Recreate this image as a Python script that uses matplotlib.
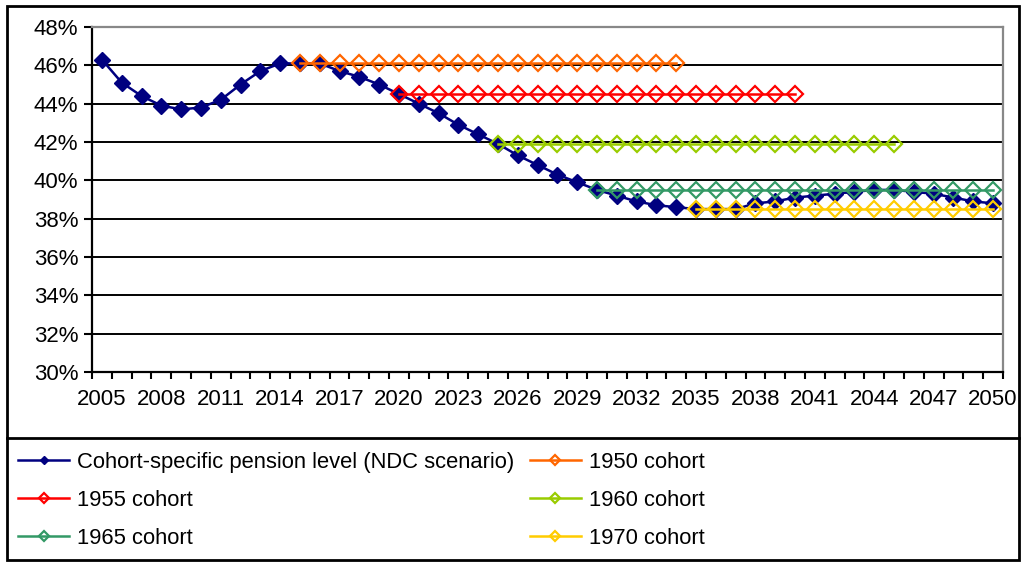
import numpy as np
import matplotlib
matplotlib.use('Agg')
import matplotlib.pyplot as plt
from matplotlib.lines import Line2D
from matplotlib.patches import Rectangle

plt.rcParams['font.family'] = ['Liberation Sans', 'DejaVu Sans']

# data
years = list(range(2005, 2051))
ndc = [46.3, 45.1, 44.4, 43.9, 43.7, 43.8, 44.2, 45.0, 45.7, 46.1,
       46.1, 46.1, 45.7, 45.4, 45.0, 44.5, 44.0, 43.5, 42.9, 42.4,
       41.9, 41.3, 40.8, 40.3, 39.9, 39.5, 39.2, 38.9, 38.7, 38.6,
       38.5, 38.5, 38.5, 38.8, 38.9, 39.1, 39.2, 39.3, 39.4, 39.5,
       39.5, 39.4, 39.3, 39.1, 38.9, 38.8]
cohort_names = ['1950 cohort', '1955 cohort', '1960 cohort', '1965 cohort', '1970 cohort']
cohort_start = [2015, 2020, 2025, 2030, 2035]
cohort_end = [2034, 2040, 2045, 2050, 2050]
cohort_level = [46.1, 44.5, 41.9, 39.5, 38.5]
cohort_colors = ['#FF6600', '#FF0000', '#99CC00', '#339966', '#FFCC00']
yticks = list(range(30, 50, 2))

W, H = 1021, 563
fig = plt.figure(figsize=(W / 100, H / 100), dpi=100)
ax = fig.add_axes([92 / W, (H - 372) / H, (1003 - 92) / W, (372 - 27) / H])

navy = '#000080'
ax.plot(years, ndc, color=navy, lw=1.8, marker='D', ms=8.5, mfc=navy, mec=navy, zorder=3)

handles = {}
for name, s, e, lev, c in zip(cohort_names, cohort_start, cohort_end, cohort_level, cohort_colors):
    yrs = [y for y in years if s <= y <= e]
    h, = ax.plot(yrs, [lev] * len(yrs), color=c, lw=1.8, marker='D', ms=8.5,
                 mfc='none', mec=c, mew=1.6, zorder=4, label=name)
    handles[name] = h

ax.set_xlim(years[0] - 0.5, years[-1] + 0.5)
ax.set_ylim(30, 48)
ax.set_yticks(yticks)
ax.set_yticklabels(['%d%%' % t for t in yticks])
ax.set_xticks(years[::3])
ax.set_xticks(np.arange(years[0] - 0.5, years[-1] + 1), minor=True)
ax.tick_params(axis='x', which='major', length=0, pad=12, labelsize=16)
ax.tick_params(axis='x', which='minor', length=5, width=1.5, direction='out')
ax.tick_params(axis='y', length=6, width=1.5, direction='out', pad=4, labelsize=16)
ax.yaxis.grid(True, color='black', lw=1.4)
ax.set_axisbelow(True)
for sp in ['left', 'bottom']:
    ax.spines[sp].set_color('black')
    ax.spines[sp].set_linewidth(1.6)
for sp in ['top', 'right']:
    ax.spines[sp].set_color('#888888')
    ax.spines[sp].set_linewidth(1.6)

# outer frame and legend box
fig.add_artist(Rectangle((7 / W, (H - 560) / H), (1019 - 7) / W, (560 - 6) / H,
                         transform=fig.transFigure, fill=False, ec='black', lw=2))
fig.add_artist(Line2D([7 / W, 1019 / W], [(H - 438) / H] * 2,
                      transform=fig.transFigure, color='black', lw=2))

ndc_h = Line2D([], [], color=navy, lw=1.8, marker='D', ms=7, mfc=navy, mec=navy)
leg_handles = [ndc_h, handles['1955 cohort'], handles['1965 cohort'],
               handles['1950 cohort'], handles['1960 cohort'], handles['1970 cohort']]
leg_labels = ['Cohort-specific pension level (NDC scenario)', '1955 cohort', '1965 cohort',
              '1950 cohort', '1960 cohort', '1970 cohort']
fig.legend(leg_handles, leg_labels, ncol=2, loc='upper left',
           bbox_to_anchor=(-2 / W, (H - 432) / H), frameon=False, fontsize=15.8,
           handlelength=2.35, handletextpad=0.35, columnspacing=0.7, labelspacing=0.78,
           markerscale=0.6)

fig.savefig('out.png', dpi=100)
